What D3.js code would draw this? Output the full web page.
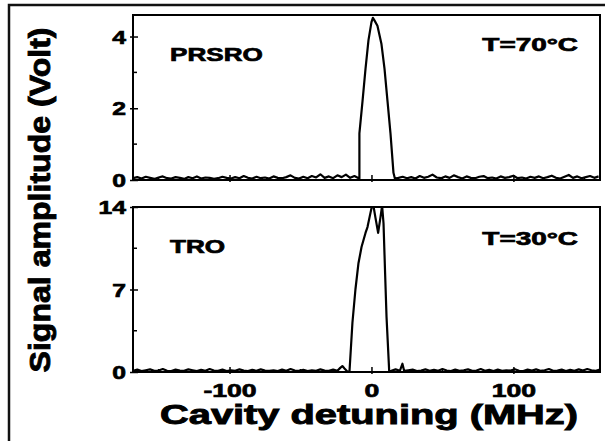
<!DOCTYPE html>
<html><head><meta charset="utf-8">
<script src="https://cdn.jsdelivr.net/npm/d3@7"></script>
<style>body{margin:0;background:#fff}svg{display:block}</style>
</head><body>
<svg id="c" width="605" height="441"></svg>
<script>
// ---------- data (MHz, Volt) ----------
const xTickValues = [-100, 0, 100];
const xMinorTicks = [-150, -50, 50, 150];
const topTickValues = [0, 2, 4];
const topMinorTicks = [1, 3];
const bottomTickValues = [0, 7, 14];
const bottomMinorTicks = [3.5, 10.5];
const topLabels = ["PRSRO", "T=70°C"];
const bottomLabels = ["TRO", "T=30°C"];

const topDetuning = [-168,-165,-162,-159,-156,-153,-150,-147,-144,-141,-138,-135,-132,-129,-126,-123,-120,-117,-114,-111,-108,-105,-102,-99,-96,-93,-90,-87,-84,-81,-78,-75,-72,-69,-66,-63,-60,-57,-54,-51,-48,-45,-42,-39,-36,-33,-30,-27,-24,-21,-18,-15,-12,-9,
 -8.5,-8.5,-6.3,-4.2,-2.1,0,1,2.1,4.2,7,9.2,11.3,13.4,15.5,16.5,
 19,22,25,28,31,34,37,40,43,46,49,52,55,58,61,64,67,70,73,76,79,82,85,88,91,94,97,100,103,106,109,112,115,118,121,124,127,130,133,136,139,142,145,148,151,154,157,160];
const topSignal = [0.05,0.08,0.04,0.09,0.06,0.03,0.07,0.1,0.05,0.04,0.08,0.06,0.03,0.08,0.05,0.1,0.04,0.07,0.06,0.03,0.05,0.09,0.06,0.04,0.08,0.05,0.11,0.06,0.04,0.09,0.05,0.07,0.04,0.1,0.06,0.05,0.08,0.13,0.06,0.04,0.09,0.05,0.11,0.07,0.16,0.06,0.1,0.05,0.13,0.08,0.15,0.06,0.11,0.05,
 0.04,1.3,2.2,3.1,3.9,4.4,4.52,4.45,4.3,3.8,3.1,2.2,1.3,0.2,0.04,
 0.06,0.09,0.05,0.08,0.04,0.11,0.06,0.09,0.15,0.07,0.05,0.1,0.06,0.13,0.08,0.04,0.1,0.06,0.05,0.09,0.11,0.05,0.07,0.04,0.1,0.06,0.08,0.12,0.05,0.07,0.04,0.09,0.06,0.1,0.05,0.08,0.12,0.06,0.04,0.09,0.14,0.06,0.1,0.05,0.08,0.11,0.06,0.1];

const bottomDetuning = [-168,-165,-162,-159,-156,-153,-150,-147,-144,-141,-138,-135,-132,-129,-126,-123,-120,-117,-114,-111,-108,-105,-102,-99,-96,-93,-90,-87,-84,-81,-78,-75,-72,-69,-66,-63,-60,-57,-54,-51,-48,-45,-42,-39,-36,-33,-30,-27,
 -24,-22,-20.5,-19,-17,-15.5,
 -13.4,-11.3,-9.2,-7.0,-4.2,-2.8,-0.7,0.4,1.4,2.8,4.7,6.3,7.5,8.5,9.6,10.6,12.5,
 14,17,20,21.8,
 23,26,29,32,35,38,41,44,47,50,53,56,59,62,65,68,71,74,77,80,83,86,89,92,95,98,101,104,107,110,113,116,119,122,125,128,131,134,137,140,143,146,149,152,155,158,161];
const bottomSignal = [0.1,0.2,0.08,0.15,0.22,0.1,0.12,0.25,0.1,0.08,0.2,0.12,0.1,0.22,0.15,0.08,0.18,0.1,0.25,0.12,0.1,0.2,0.08,0.15,0.1,0.22,0.12,0.08,0.18,0.1,0.22,0.12,0.1,0.15,0.08,0.2,0.1,0.25,0.12,0.1,0.18,0.08,0.15,0.1,0.22,0.12,0.1,0.2,
 0.1,0.35,0.5,0.3,0.05,0.02,
 4.2,7.0,9.2,10.6,11.8,12.3,13.5,14.1,14.1,13.1,11.8,13.1,14.1,12.6,8.4,4.7,0.05,
 0.1,0.22,0.1,0.7,
 0.1,0.15,0.2,0.08,0.12,0.22,0.1,0.18,0.1,0.25,0.12,0.08,0.2,0.1,0.15,0.22,0.1,0.12,0.25,0.1,0.18,0.08,0.2,0.1,0.15,0.12,0.24,0.1,0.08,0.2,0.12,0.22,0.1,0.15,0.25,0.1,0.12,0.2,0.08,0.18,0.1,0.22,0.12,0.25,0.15,0.1,0.2];

// ---------- layout ----------
const svg = d3.select("#c");
const L = 133, R = 600;
const panels = [
  {top: 15, bottom: 180, domain: [0, 4.6], ticks: topTickValues, minor: topMinorTicks, xs: topDetuning, ys: topSignal, labels: topLabels, lblY: [61, 51], xLabels: false},
  {top: 207, bottom: 372, domain: [0, 14], ticks: bottomTickValues, minor: bottomMinorTicks, xs: bottomDetuning, ys: bottomSignal, labels: bottomLabels, lblY: [253, 245], xLabels: true}
];
const x = d3.scaleLinear().domain([-168, 161]).range([L, R]);
const FONT = "'Liberation Sans', Arial, sans-serif";

function stext(g, tx, ty, str, size, anchor, sx) {
  return g.append("text").attr("transform", `translate(${tx},${ty}) scale(${sx},1)`)
    .attr("text-anchor", anchor).attr("font-family", FONT).attr("font-weight", "bold")
    .attr("font-size", size).attr("fill", "#000")
    .attr("stroke", "#000").attr("stroke-width", 0.7).text(str);
}

// outer frame
svg.append("rect").attr("x", 9).attr("y", 5).attr("width", 700).attr("height", 600)
  .attr("fill", "none").attr("stroke", "#111").attr("stroke-width", 2.5);

panels.forEach((p, i) => {
  const y = d3.scaleLinear().domain(p.domain).range([p.bottom, p.top]);
  const g = svg.append("g");
  const cid = "clip" + i;
  svg.append("clipPath").attr("id", cid).append("rect")
    .attr("x", L).attr("y", p.top).attr("width", R - L).attr("height", p.bottom - p.top);

  // trace
  const pts = p.xs.map((d, k) => [d, p.ys[k]]);
  g.append("path").datum(pts).attr("clip-path", `url(#${cid})`)
    .attr("fill", "none").attr("stroke", "#000").attr("stroke-width", 2.2).attr("stroke-linejoin", "round")
    .attr("d", d3.line().x(d => x(d[0])).y(d => y(d[1])));

  // box
  g.append("rect").attr("x", L).attr("y", p.top).attr("width", R - L).attr("height", p.bottom - p.top)
    .attr("fill", "none").attr("stroke", "#000").attr("stroke-width", 2);

  // y axis
  const ya = g.append("g").attr("transform", `translate(${L},0)`)
    .call(d3.axisLeft(y).tickValues(p.ticks).tickSize(3).tickFormat(d3.format("d")));
  ya.select(".domain").remove();
  ya.selectAll("line").attr("x1", -3).attr("x2", 5).attr("stroke-width", 1.5);
  ya.selectAll("text").remove();
  ya.selectAll(".tick").each(function(d) {
    stext(d3.select(this), -7, 6.5, String(d), 19, "end", 1.3);
  });
  p.minor.forEach(v => g.append("line").attr("x1", L).attr("x2", L + 4)
    .attr("y1", y(v)).attr("y2", y(v)).attr("stroke", "#000").attr("stroke-width", 1.5));

  // x axis ticks
  const xa = g.append("g").attr("transform", `translate(0,${p.bottom})`)
    .call(d3.axisBottom(x).tickValues(xTickValues).tickSize(3));
  xa.select(".domain").remove();
  xa.selectAll("line").attr("y1", -5).attr("y2", 2).attr("stroke-width", 1.5);
  xa.selectAll("text").remove();
  if (p.xLabels) {
    xa.selectAll(".tick").each(function(d) {
      stext(d3.select(this), 0, 25, d3.format("d")(d).replace("−", "-"), 19, "middle", 1.4);
    });
  }
  xMinorTicks.forEach(v => g.append("line").attr("x1", x(v)).attr("x2", x(v))
    .attr("y1", p.bottom).attr("y2", p.bottom - 3).attr("stroke", "#000").attr("stroke-width", 1.5));

  // panel labels
  stext(g, 170, p.lblY[0], p.labels[0], 18, "start", 1.45);
  stext(g, 578, p.lblY[1], p.labels[1], 18, "end", 1.55);
});

// axis titles
svg.append("text").attr("transform", "translate(50,200) rotate(-90)")
  .attr("text-anchor", "middle").attr("font-family", FONT).attr("font-weight", "bold")
  .attr("font-size", 30).attr("textLength", 345).attr("lengthAdjust", "spacingAndGlyphs")
  .attr("stroke", "#000").attr("stroke-width", 0.9)
  .text("Signal amplitude (Volt)");
svg.append("text").attr("x", 369).attr("y", 424)
  .attr("text-anchor", "middle").attr("font-family", FONT).attr("font-weight", "bold")
  .attr("font-size", 27).attr("textLength", 418).attr("lengthAdjust", "spacingAndGlyphs")
  .attr("stroke", "#000").attr("stroke-width", 0.9)
  .text("Cavity detuning (MHz)");
</script>
</body></html>
